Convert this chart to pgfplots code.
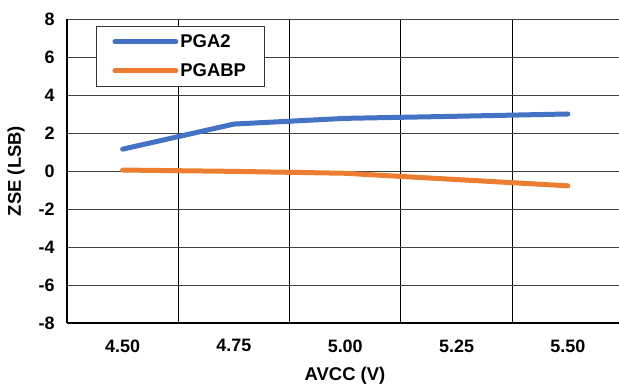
\documentclass[border=0pt]{standalone}
\usepackage{fontspec}
\setmainfont{Liberation Sans}
\usepackage{pgfplots}
\pgfplotsset{compat=1.18}
\definecolor{cblue}{HTML}{4472C4}
\definecolor{corange}{HTML}{ED7D31}
\begin{document}
\begin{tikzpicture}[x=1bp,y=1bp]
\path[use as bounding box] (0,0) rectangle (619,387);
\begin{axis}[
  at={(67bp,64bp)}, anchor=south west,
  scale only axis, width=552bp, height=304bp,
  xmin=-0.5, xmax=4.46, ymin=-8, ymax=8,
  xtick={0,1,2,3,4}, xticklabels={4.50,4.75,5.00,5.25,5.50},
  minor xtick={0.5,1.5,2.5,3.5},
  ytick={-8,-6,-4,-2,0,2,4,6,8},
  xminorgrids, ymajorgrids,
  minor grid style={black, line width=0.9bp},
  major grid style={black!75, line width=0.9bp},
  axis x line*=bottom, axis y line*=left,
  axis line style={black, line width=1.5bp, -},
  major tick length=0pt, minor tick length=0pt,
  /pgf/number format/assume math mode=true,
  tick label style={font=\fontsize{18}{21}\selectfont\bfseries},
  xticklabel style={yshift=-13bp},
  yticklabel style={xshift=-9bp},
  label style={font=\fontsize{18.5}{21}\selectfont\bfseries},
  xlabel={AVCC (V)},
  ylabel={ZSE (LSB)},
  xlabel style={at={(axis description cs:0.5036,-0.174)}, anchor=center},
  ylabel style={at={(axis description cs:-0.0924,0.5)}, anchor=center},
  legend style={at={(axis description cs:0.0525,0.977)}, anchor=north west,
    draw=black!80, line width=0.9bp, font=\fontsize{18.5}{21}\selectfont\bfseries,
    inner xsep=16bp, inner ysep=6bp, row sep=11bp},
  legend cell align=left,
  legend image code/.code={\path (0bp,0bp) -- (61bp,0bp);\draw[#1, line width=5bp, line cap=round] (10.5bp,0bp) -- (58.5bp,0bp);},
]
\addplot[cblue, line width=5bp, line cap=round, line join=round] coordinates {
  (0,1.15) (1,2.47) (2,2.77) (3,2.88) (4,3.0)};
\addlegendentry{PGA2}
\addplot[corange, line width=5bp, line cap=round, line join=round] coordinates {
  (0,0.05) (1,-0.02) (2,-0.12) (3,-0.45) (4,-0.78)};
\addlegendentry{PGABP}
\end{axis}
\end{tikzpicture}
\end{document}
